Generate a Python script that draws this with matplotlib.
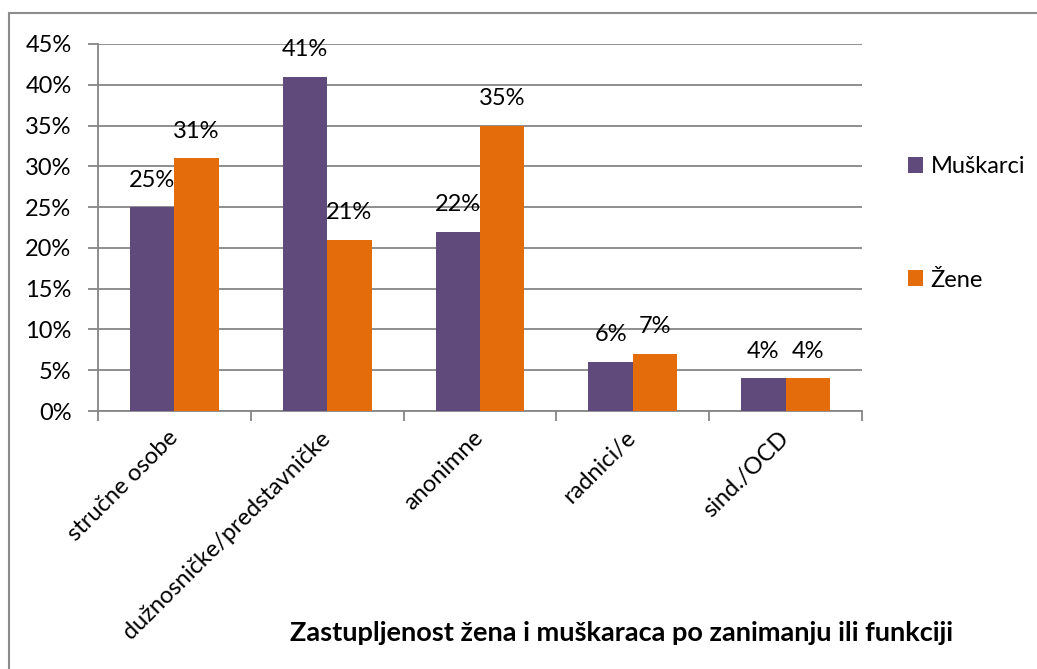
import matplotlib.pyplot as plt
import matplotlib.patches as mpatches
import numpy as np

# === Data ===
categories = ["stručne osobe", "dužnosničke/predstavničke", "anonimne", "radnici/e", "sind./OCD"]
muskarci = [25, 41, 22, 6, 4]
zene = [31, 21, 35, 7, 4]
series_names = ["Muškarci", "Žene"]
title = "Zastupljenost žena i muškaraca po zanimanju ili funkciji"

PURPLE = "#604A7B"
ORANGE = "#E46C0A"
GRID = "#868686"
FS = 17

plt.rcParams['font.family'] = ['Lato', 'DejaVu Sans']

fig = plt.figure(figsize=(10.37, 6.69), dpi=100)
# chart border (only top/left visible in the crop)
fig.patches.append(mpatches.Rectangle((9 / 1037, -0.1), 1.2, 1 - 13 / 669 + 0.1,
                                      transform=fig.transFigure, fill=False,
                                      edgecolor="#8c8c8c", linewidth=1.5))

ax = fig.add_axes([98 / 1037, 1 - 411 / 669, (862 - 98) / 1037, (411 - 44) / 669])

x = np.arange(len(categories))
w = 0.29
b1 = ax.bar(x - w / 2, muskarci, w, color=PURPLE, label=series_names[0], zorder=3)
b2 = ax.bar(x + w / 2, zene, w, color=ORANGE, label=series_names[1], zorder=3)

for bars, vals in ((b1, muskarci), (b2, zene)):
    for bar, v in zip(bars, vals):
        ax.annotate(f"{v}%", (bar.get_x() + bar.get_width() / 2, bar.get_height()),
                    xytext=(0, 19.5), textcoords="offset points",
                    ha="center", va="center", fontsize=FS, color="black")

ax.set_xlim(-0.5, len(categories) - 0.5)
ax.set_ylim(0, 45)
ax.set_yticks(np.arange(0, 46, 5))
ax.set_yticklabels([f"{t}%" for t in range(0, 46, 5)])
ax.yaxis.grid(True, color=GRID, linewidth=1.3, zorder=0)
ax.set_axisbelow(True)

for s in ["top", "right"]:
    ax.spines[s].set_visible(False)
for s in ["left", "bottom"]:
    ax.spines[s].set_color(GRID)
    ax.spines[s].set_linewidth(1.3)

ax.tick_params(axis="y", length=7, width=1.3, color=GRID, pad=12, labelsize=FS)
ax.set_xticks(x)
ax.set_xticklabels(categories, rotation=45, ha="right", va="center", rotation_mode="anchor")
ax.tick_params(axis="x", which="major", length=0, pad=17, labelsize=FS)
ax.set_xticks(np.arange(-0.5, len(categories)), minor=True)
ax.tick_params(axis="x", which="minor", length=7, width=1.3, color=GRID, direction="out")

fig.legend(handles=[b1, b2], loc="center left", bbox_to_anchor=(908 / 1037, 1 - 223.5 / 669),
           frameon=False, fontsize=FS, labelspacing=3.9, handlelength=0.65,
           handleheight=0.65, handletextpad=0.3, borderpad=0, borderaxespad=0)

fig.text(622 / 1037, 1 - 633 / 669, title, ha="center", va="center",
         fontsize=19.5, fontweight="bold")

fig.savefig("out.png", dpi=100)
